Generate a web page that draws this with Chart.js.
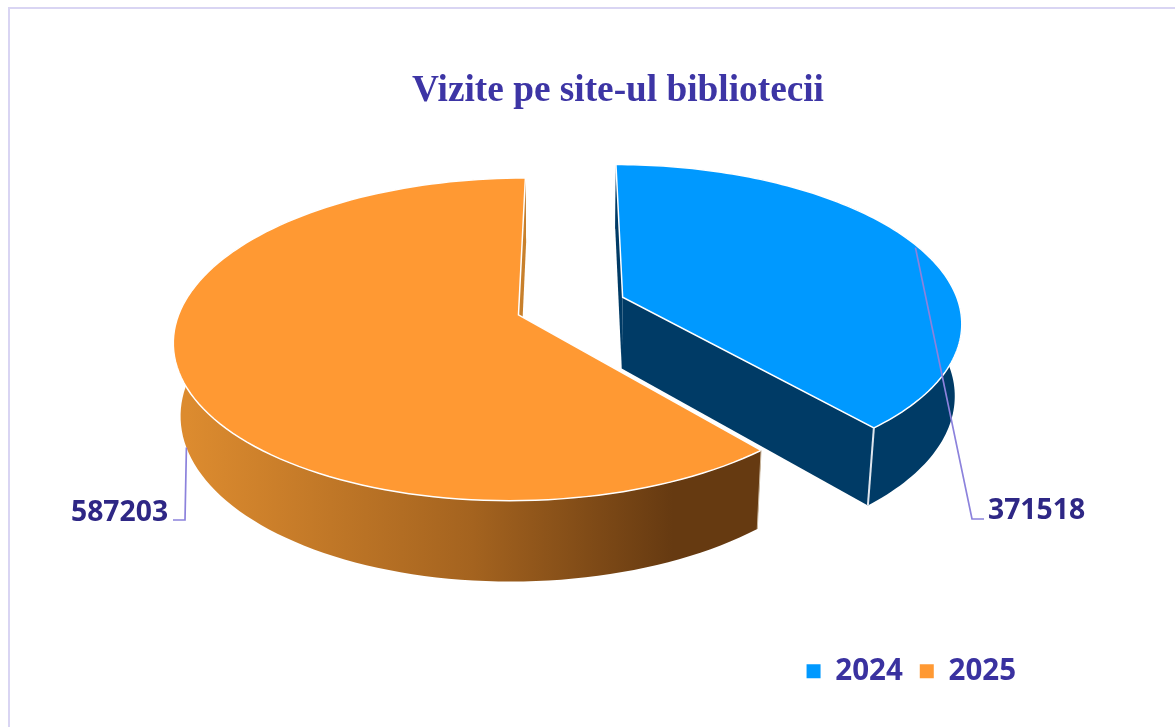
<!DOCTYPE html>
<html>
<head>
<meta charset="utf-8">
<title>Vizite pe site-ul bibliotecii</title>
<script src="https://cdn.jsdelivr.net/npm/chart.js@4"></script>
<style>
    html, body { margin: 0; padding: 0; background: #fff; overflow: hidden; }
    #frame { position: absolute; left: 8px; top: 7px; width: 1167px; height: 720px; border-left: 2px solid #d9d5f3; border-top: 2px solid #d9d5f3; box-sizing: border-box; }
    #pie3d { position: absolute; left: 0; top: 0; }
</style>
</head>
<body>
<div id="frame"></div>
<canvas id="pie3d" width="1175" height="727"></canvas>
<script>
// Chart values
const years = ['2024', '2025'];
const visits = [371518, 587203];
const topColors = ['#0099ff', '#ff9933'];
const sideColors = ['#003b66', '#c8802c'];

// Perspective used to lay the flat pie down (z = 0 top face, z = 1 bottom face)
const CX = 571, CY = 306, AX = 337, BY = 155, TILT = 0.15, DEPTH_W = 0.018, DEPTH_Y = 73;

function project(u, v, z) {
    const w = 1 - TILT * v + DEPTH_W * z;
    return { x: CX + AX * u / w, y: CY + (BY * v + DEPTH_Y * z) / w };
}

// Point on a slice, from the angles Chart.js worked out for the arc
function slicePoint(arc, angle, r, z) {
    const mid = (arc.startAngle + arc.endAngle) / 2;
    const o = arc.options.offset / arc.outerRadius;
    return project(r * Math.cos(angle) + o * Math.cos(mid), r * Math.sin(angle) + o * Math.sin(mid), z);
}

function rimPoints(arc, z, reverse) {
    const pts = [];
    const steps = 120;
    for (let i = 0; i <= steps; i++) {
        const t = reverse ? 1 - i / steps : i / steps;
        pts.push(slicePoint(arc, arc.startAngle + (arc.endAngle - arc.startAngle) * t, 1, z));
    }
    return pts;
}

function fillPath(ctx, pts, style) {
    ctx.beginPath();
    pts.forEach((p, i) => i ? ctx.lineTo(p.x, p.y) : ctx.moveTo(p.x, p.y));
    ctx.closePath();
    ctx.fillStyle = style;
    ctx.fill();
}

function cutFace(ctx, arc, angle, style) {
    fillPath(ctx, [slicePoint(arc, angle, 0, 0), slicePoint(arc, angle, 1, 0), slicePoint(arc, angle, 1, 1), slicePoint(arc, angle, 0, 1)], style);
}

function orangeWall(ctx) {
    const g = ctx.createLinearGradient(188, 0, 758, 0);
    g.addColorStop(0, '#dc8b2f');
    g.addColorStop(0.5, '#a4631f');
    g.addColorStop(0.85, '#663a11');
    g.addColorStop(1, '#663a11');
    return g;
}

const pie3dPlugin = {
    id: 'pie3d',
    beforeDatasetsDraw(chart) {
        const ctx = chart.ctx;
        const arcs = chart.getDatasetMeta(0).data;
        ctx.save();
        arcs.forEach((arc, i) => {
            const a0 = arc.startAngle, a1 = arc.endAngle;
            // start face, outer wall, end face
            cutFace(ctx, arc, a0, sideColors[i]);
            fillPath(ctx, rimPoints(arc, 0, false).concat(rimPoints(arc, 1, true)), i === 1 ? orangeWall(ctx) : sideColors[i]);
            cutFace(ctx, arc, a1, sideColors[i]);

            // top face with its white edge
            const top = [slicePoint(arc, a0, 0, 0)].concat(rimPoints(arc, 0, false));
            fillPath(ctx, top, topColors[i]);
            ctx.strokeStyle = '#ffffff';
            ctx.lineWidth = 1.5;
            ctx.stroke();

            // white corner line on the front of the wall
            const front = i === 0 ? a1 : a0;
            const c0 = slicePoint(arc, front, 1, 0), c1 = slicePoint(arc, front, 1, 1);
            ctx.beginPath();
            ctx.moveTo(c0.x, c0.y);
            ctx.lineTo(c1.x, c1.y);
            ctx.lineWidth = i === 0 ? 2 : 1;
            ctx.strokeStyle = i === 0 ? '#dfe6ee' : '#c9b8a2';
            ctx.stroke();
        });

        // leader lines and value labels
        ctx.strokeStyle = '#8c82dc';
        ctx.lineWidth = 1.7;
        ctx.font = 'bold 28.3px "Open Sans"';
        ctx.fillStyle = '#2e2785';
        ctx.textBaseline = 'alphabetic';
        arcs.forEach((arc, i) => {
            const mid = (arc.startAngle + arc.endAngle) / 2;
            const start = i === 0 ? slicePoint(arc, mid, 0.99, 0) : slicePoint(arc, mid, 1, 1);
            const elbow = i === 0 ? { x: 972, y: 519 } : { x: 185, y: 520 };
            const tail = i === 0 ? 984 : 173;
            ctx.beginPath();
            ctx.moveTo(start.x, start.y);
            ctx.lineTo(elbow.x, elbow.y);
            ctx.lineTo(tail, elbow.y);
            ctx.stroke();
            ctx.fillText(String(visits[i]), i === 0 ? 988 : 71, i === 0 ? 519 : 521);
        });
        ctx.restore();
        return false; // the faces above replace the flat arcs
    }
};

new Chart(document.getElementById('pie3d'), {
    type: 'pie',
    data: {
        labels: years,
        datasets: [{
            data: visits,
            backgroundColor: topColors,
            borderWidth: 0,
            offset: 40
        }]
    },
    options: {
        responsive: false,
        animation: false,
        layout: { padding: { left: 203, right: 142, top: 69, bottom: 31 } },
        plugins: {
            title: {
                display: true,
                text: 'Vizite pe site-ul bibliotecii',
                color: '#3d35a5',
                font: { family: '"Liberation Serif"', size: 37.3, weight: 'bold' },
                padding: 0
            },
            legend: {
                position: 'bottom',
                align: 'end',
                labels: {
                    usePointStyle: true,
                    pointStyle: 'rect',
                    boxHeight: 14,
                    pointStyleWidth: 14,
                    padding: 17,
                    color: '#3a32a0',
                    font: { family: '"Open Sans"', size: 29.5, weight: 'bold' }
                }
            }
        }
    },
    plugins: [pie3dPlugin]
});
</script>
</body>
</html>
